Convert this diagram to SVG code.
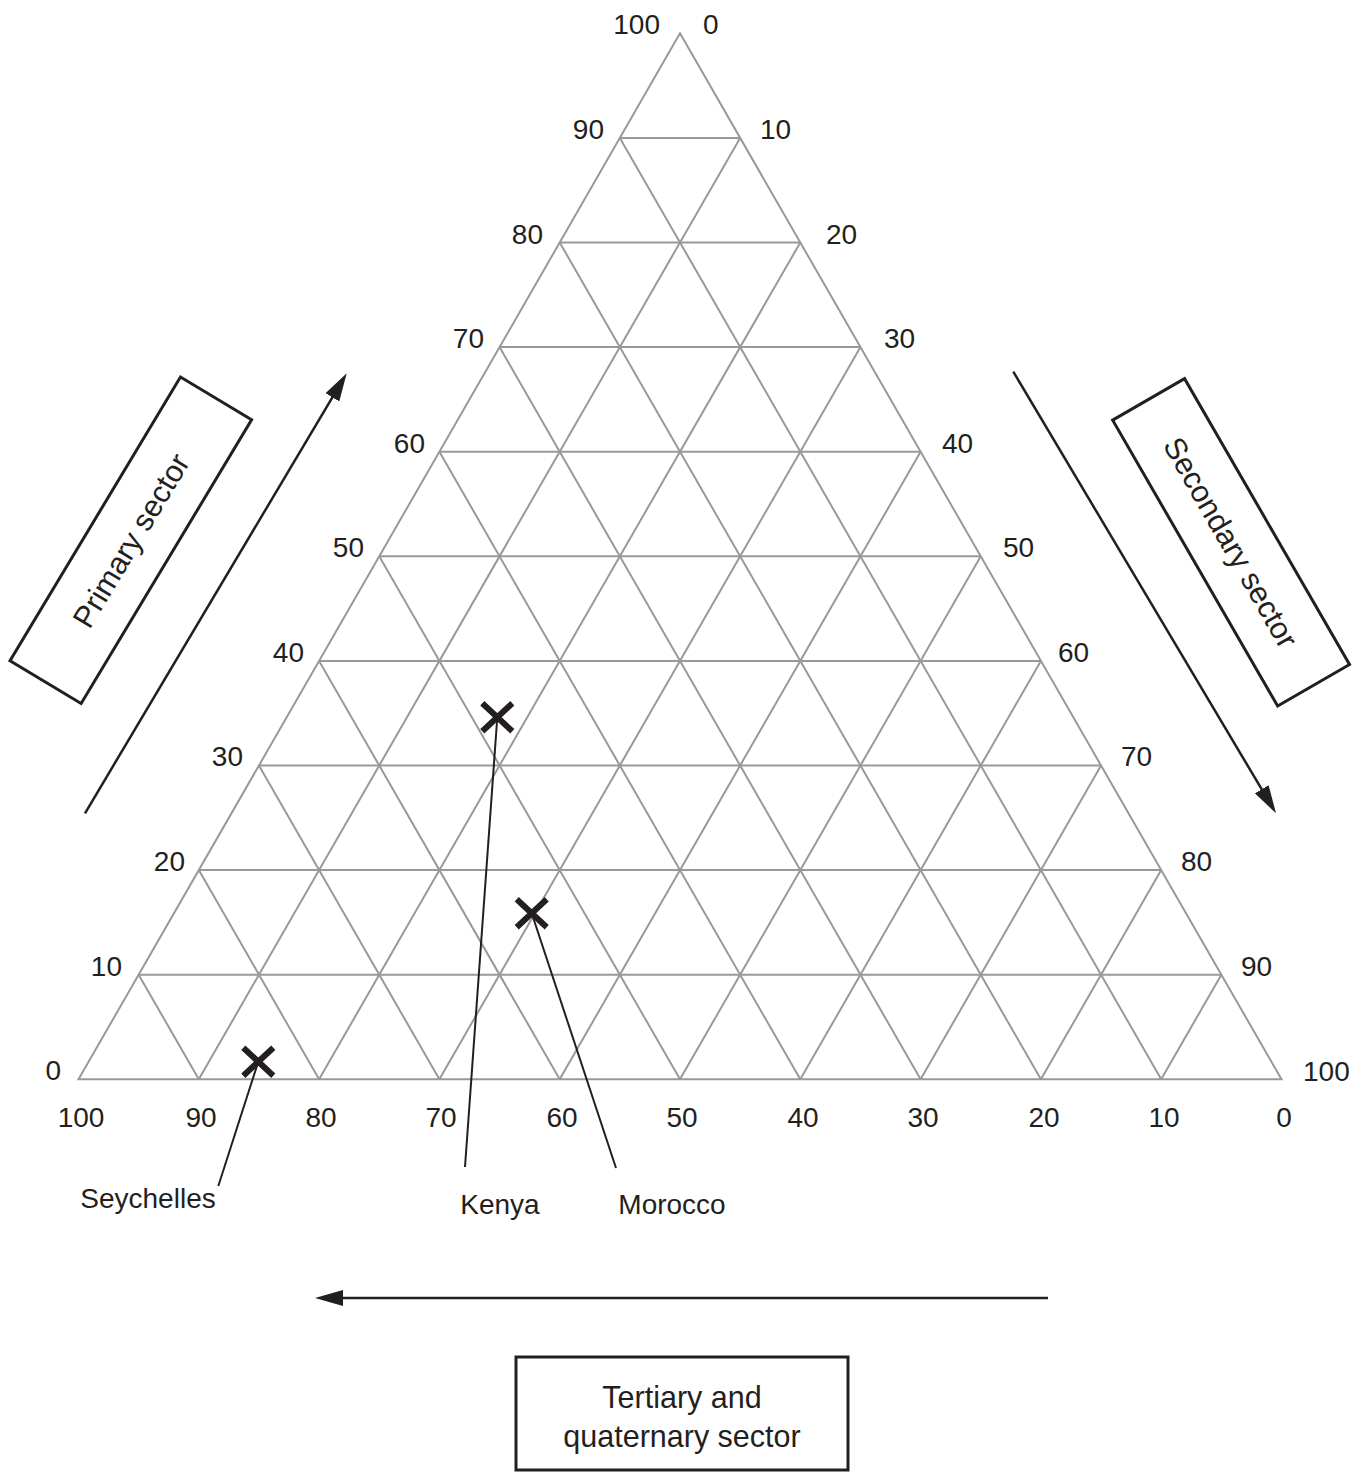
<svg xmlns="http://www.w3.org/2000/svg" width="1354" height="1474" viewBox="0 0 1354 1474">
<style>
text{font-family:"Liberation Sans",Arial,sans-serif;font-size:28px;fill:#231f20}
.bt{font-size:30.5px}
.g{stroke:#999;stroke-width:2;fill:none}
.box{fill:#fff;stroke:#231f20;stroke-width:3}
.arr{stroke:#231f20;stroke-width:2.5;fill:none;marker-end:url(#ah)}
.lead{stroke:#231f20;stroke-width:2;fill:none}
.x{stroke:#231f20;stroke-width:6;fill:none}
.l{text-anchor:end}
.c{text-anchor:middle}
</style>
<defs>
<marker id="ah" markerUnits="userSpaceOnUse" markerWidth="28" markerHeight="16" refX="18" refY="8" orient="auto">
<path d="M0,0 L28,8 L0,16 z" fill="#231f20"/>
</marker>
</defs>
<rect width="1354" height="1474" fill="#fff"/>
<g id="grid" class="g">
<polygon points="78.5,1079.3 1281.5,1079.3 680,33.3"/>
<line x1="138.65" y1="974.7" x2="1221.35" y2="974.7"/>
<line x1="198.8" y1="870.1" x2="1161.2" y2="870.1"/>
<line x1="258.95" y1="765.5" x2="1101.05" y2="765.5"/>
<line x1="319.1" y1="660.9" x2="1040.9" y2="660.9"/>
<line x1="379.25" y1="556.3" x2="980.75" y2="556.3"/>
<line x1="439.4" y1="451.7" x2="920.6" y2="451.7"/>
<line x1="499.55" y1="347.1" x2="860.45" y2="347.1"/>
<line x1="559.7" y1="242.5" x2="800.3" y2="242.5"/>
<line x1="619.85" y1="137.9" x2="740.15" y2="137.9"/>
<line x1="198.8" y1="1079.3" x2="740.15" y2="137.9"/>
<line x1="319.1" y1="1079.3" x2="800.3" y2="242.5"/>
<line x1="439.4" y1="1079.3" x2="860.45" y2="347.1"/>
<line x1="559.7" y1="1079.3" x2="920.6" y2="451.7"/>
<line x1="680" y1="1079.3" x2="980.75" y2="556.3"/>
<line x1="800.3" y1="1079.3" x2="1040.9" y2="660.9"/>
<line x1="920.6" y1="1079.3" x2="1101.05" y2="765.5"/>
<line x1="1040.9" y1="1079.3" x2="1161.2" y2="870.1"/>
<line x1="1161.2" y1="1079.3" x2="1221.35" y2="974.7"/>
<line x1="198.8" y1="1079.3" x2="138.65" y2="974.7"/>
<line x1="319.1" y1="1079.3" x2="198.8" y2="870.1"/>
<line x1="439.4" y1="1079.3" x2="258.95" y2="765.5"/>
<line x1="559.7" y1="1079.3" x2="319.1" y2="660.9"/>
<line x1="680" y1="1079.3" x2="379.25" y2="556.3"/>
<line x1="800.3" y1="1079.3" x2="439.4" y2="451.7"/>
<line x1="920.6" y1="1079.3" x2="499.55" y2="347.1"/>
<line x1="1040.9" y1="1079.3" x2="559.7" y2="242.5"/>
<line x1="1161.2" y1="1079.3" x2="619.85" y2="137.9"/>
</g>
<g id="left-scale" class="l">
<text x="660" y="34">100</text>
<text x="604" y="139">90</text>
<text x="543" y="244">80</text>
<text x="484" y="348">70</text>
<text x="425" y="453">60</text>
<text x="364" y="557">50</text>
<text x="304" y="662">40</text>
<text x="243" y="766">30</text>
<text x="185" y="871">20</text>
<text x="122" y="976">10</text>
<text x="61" y="1080">0</text>
</g>
<g id="right-scale">
<text x="703" y="34">0</text>
<text x="760" y="139">10</text>
<text x="826" y="244">20</text>
<text x="884" y="348">30</text>
<text x="942" y="453">40</text>
<text x="1003" y="557">50</text>
<text x="1058" y="662">60</text>
<text x="1121" y="766">70</text>
<text x="1181" y="871">80</text>
<text x="1241" y="976">90</text>
<text x="1303" y="1081">100</text>
</g>
<g id="bottom-scale" class="c">
<text x="81" y="1127">100</text>
<text x="201" y="1127">90</text>
<text x="321" y="1127">80</text>
<text x="441" y="1127">70</text>
<text x="562" y="1127">60</text>
<text x="682" y="1127">50</text>
<text x="803" y="1127">40</text>
<text x="923" y="1127">30</text>
<text x="1044" y="1127">20</text>
<text x="1164" y="1127">10</text>
<text x="1284" y="1127">0</text>
</g>
<g id="connectors">
<line class="arr" x1="85" y1="813.3" x2="341.6" y2="381.9"/>
<line class="arr" x1="1013.3" y1="371.7" x2="1270.9" y2="804.7"/>
<line class="arr" x1="1048" y1="1298" x2="325" y2="1298"/>
<line class="lead" x1="497.3" y1="717.3" x2="465" y2="1167"/>
<line class="lead" x1="531.7" y1="913.3" x2="616" y2="1168"/>
<line class="lead" x1="258.3" y1="1061.7" x2="218.3" y2="1186"/>
</g>
<g id="primary-sector" transform="translate(130.8,540.3) rotate(-59)">
<rect class="box" x="-165.5" y="-41.5" width="331" height="83"/>
<text class="c bt" x="0" y="11">Primary sector</text>
</g>
<g id="secondary-sector" transform="translate(1231.1,542.3) rotate(60)">
<rect class="box" x="-165" y="-41.5" width="330" height="83"/>
<text class="c bt" x="0" y="11">Secondary sector</text>
</g>
<g id="tertiary-sector">
<rect class="box" x="516" y="1357" width="332" height="113"/>
<text class="c bt" x="682" y="1408">Tertiary and</text>
<text class="c bt" x="682" y="1447">quaternary sector</text>
</g>
<g id="kenya">
<path class="x" d="M482.3,703.3 L512.3,731.3 M512.3,703.3 L482.3,731.3"/>
<text class="c" x="500" y="1214">Kenya</text>
</g>
<g id="morocco">
<path class="x" d="M516.7,899.3 L546.7,927.3 M546.7,899.3 L516.7,927.3"/>
<text class="c" x="672" y="1214">Morocco</text>
</g>
<g id="seychelles">
<path class="x" d="M243.3,1047.7 L273.3,1075.7 M273.3,1047.7 L243.3,1075.7"/>
<text class="c" x="148" y="1208">Seychelles</text>
</g>
</svg>
